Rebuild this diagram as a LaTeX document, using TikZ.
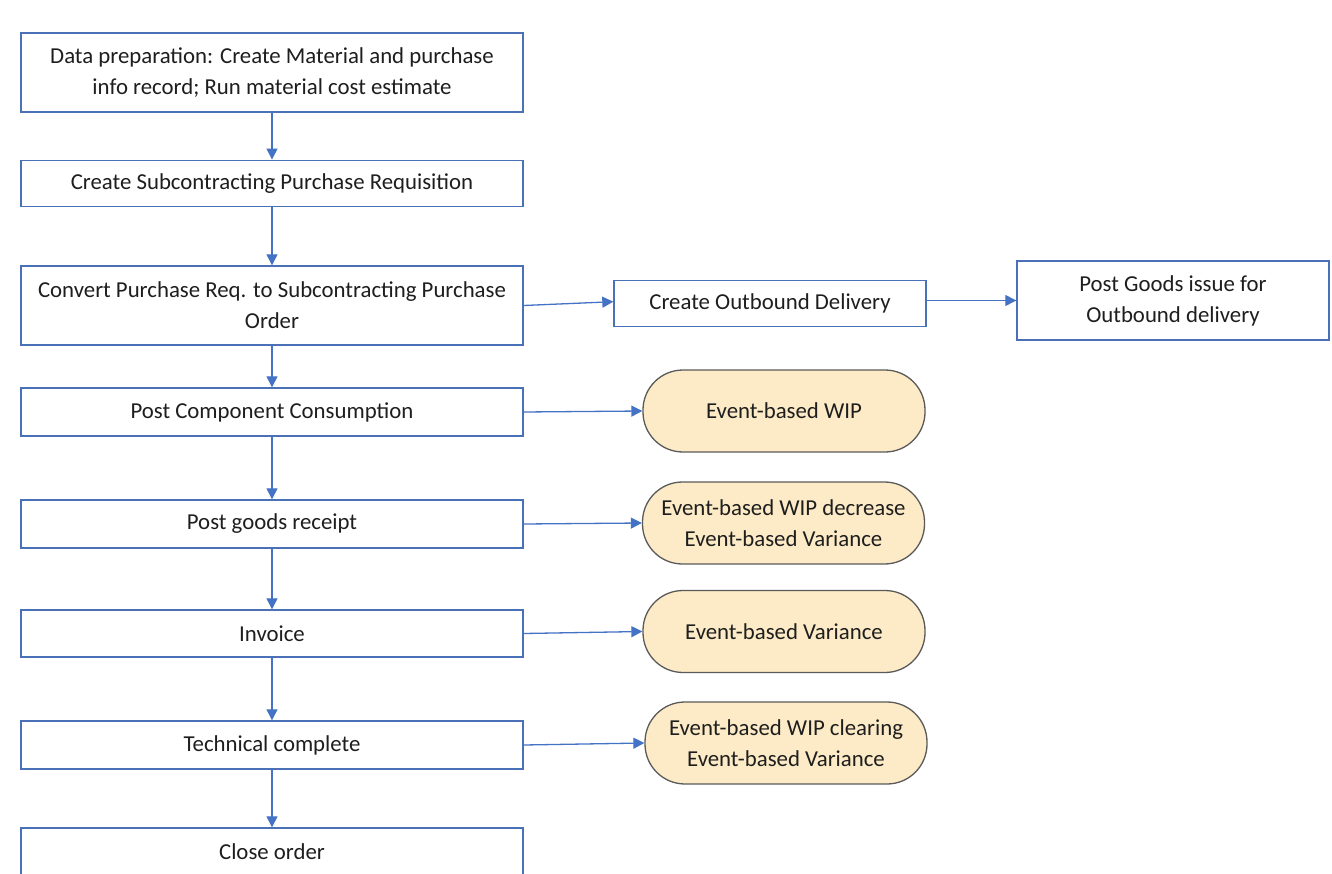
\documentclass[tikz,border=0pt]{standalone}
\usepackage{fontspec}
\setmainfont{Carlito}
\usetikzlibrary{arrows.meta}
\definecolor{boxblue}{HTML}{4A70B8}
\definecolor{arrowblue}{HTML}{4472C4}
\definecolor{stadfill}{HTML}{FCEBC6}
\definecolor{staddraw}{HTML}{5A5A5A}
\definecolor{txt}{HTML}{1E1E1E}
\begin{document}
\begin{tikzpicture}[x=1pt,y=-1pt,
  every node/.style={font=\fontsize{22.8}{31}\selectfont, text=txt, align=center, inner sep=0pt},
  stepbox/.style={draw=boxblue, line width=1.4pt, fill=white, minimum width=502pt},
  rbox/.style={draw=boxblue, line width=1.4pt, fill=white, minimum width=312pt},
  stadium/.style={draw=staddraw, line width=1.3pt, fill=stadfill, rounded corners=40pt, minimum width=282pt, minimum height=82pt},
  flow/.style={draw=arrowblue, line width=1.3pt, -{Triangle[length=11pt,width=11pt]}}
]
\useasboundingbox (0,0) rectangle (1332,874);
\clip (0,0) rectangle (1332,874);
\node[stepbox, minimum height=79pt] (b1) at (272,72.5) {Data preparation: Create Material and purchase\\info record; Run material cost estimate};
\node[stepbox, minimum height=46.5pt] (b2) at (272,183.5) {Create Subcontracting Purchase Requisition};
\node[stepbox, minimum height=79pt] (b3) at (272,305.5) {Convert Purchase Req. to Subcontracting Purchase\\Order};
\node[stepbox, minimum height=48pt] (b4) at (272,412) {Post Component Consumption};
\node[stepbox, minimum height=48pt] (b5) at (272,524) {Post goods receipt};
\node[stepbox, minimum height=47pt] (b6) at (272,633.5) {Invoice};
\node[stepbox, minimum height=48pt] (b7) at (272,745) {Technical complete};
\node[stepbox, minimum height=48pt] (b8) at (272,852) {Close order};

\node[rbox, minimum height=46pt] (ob) at (770,303.7) {Create Outbound Delivery};
\node[rbox, minimum height=78.6pt] (gi) at (1173,300.5) {Post Goods issue for\\Outbound delivery};

\node[stadium] (s1) at (784,411) {Event-based WIP};
\node[stadium] (s2) at (783.5,523) {Event-based WIP decrease\\Event-based Variance};
\node[stadium] (s3) at (784,631.5) {Event-based Variance};
\node[stadium] (s4) at (786,743) {Event-based WIP clearing\\Event-based Variance};

\draw[flow] (b1) -- (b2);
\draw[flow] (b2) -- (b3);
\draw[flow] (b3) -- (b4);
\draw[flow] (b4) -- (b5);
\draw[flow] (b5) -- (b6);
\draw[flow] (b6) -- (b7);
\draw[flow] (b7) -- (b8);

\draw[flow] (b3.east) -- ([yshift=2pt]ob.west);
\draw[flow] (ob.east |- gi.west) -- (gi.west);
\draw[flow] (b4.east) -- (s1.west);
\draw[flow] (b5.east) -- (s2.west);
\draw[flow] (b6.east) -- (s3.west);
\draw[flow] (b7.east) -- (s4.west);
\end{tikzpicture}
\end{document}
